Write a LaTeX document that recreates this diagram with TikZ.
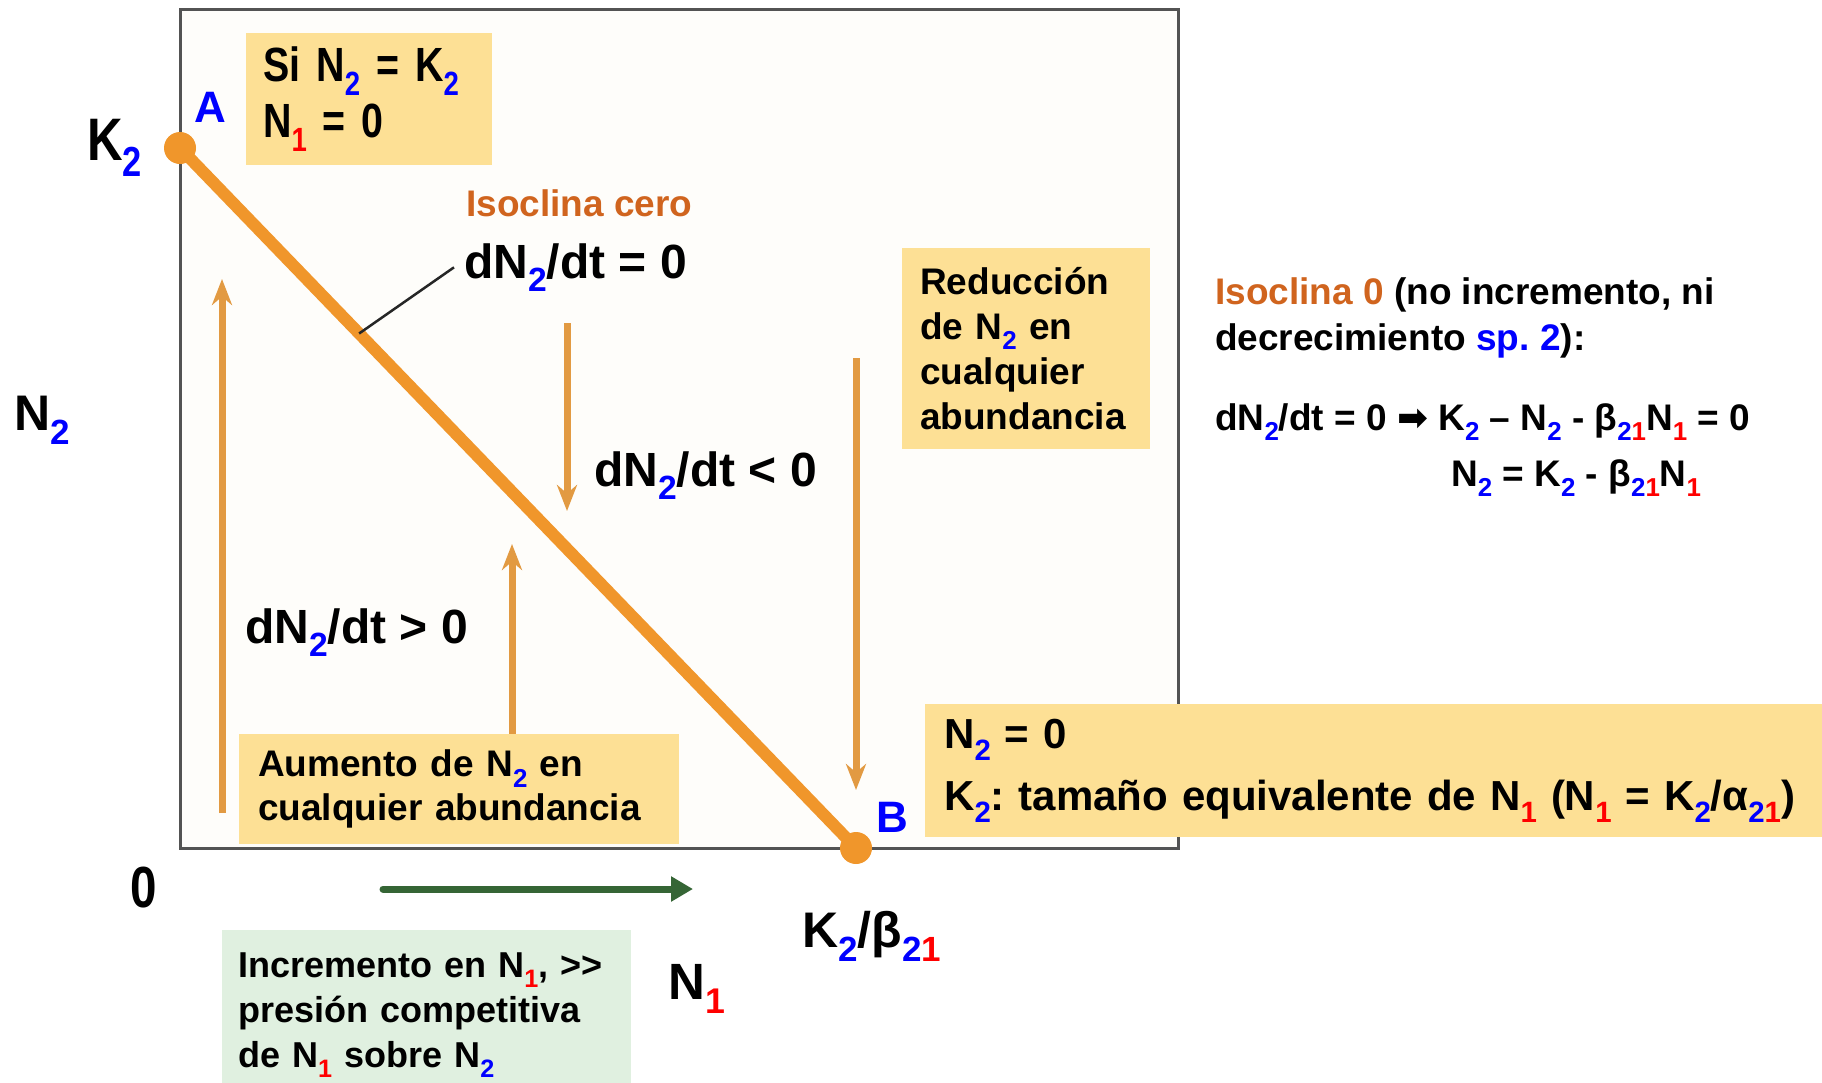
\documentclass[tikz,border=0pt]{standalone}
\usepackage{fontspec}
\setmainfont{Liberation Sans}
\newfontfamily\tallfont{Liberation Sans}[FakeStretch=0.82,BoldFeatures={FakeStretch=0.82}]
\newfontfamily\arrowfont{DejaVu Sans}
\usetikzlibrary{arrows.meta,calc}
\definecolor{boxyellow}{HTML}{FDE095}
\definecolor{boxgreen}{HTML}{E0F0E0}
\definecolor{isoline}{HTML}{F0962B}
\definecolor{flowarrow}{HTML}{E29A42}
\definecolor{isotext}{HTML}{D0641E}
\definecolor{spblue}{HTML}{0000FF}
\definecolor{spred}{HTML}{FF0000}
\definecolor{pushgreen}{HTML}{356535}
\definecolor{framefill}{HTML}{FEFDFA}
\newcommand{\fs}[2]{\fontsize{#1}{#2}\selectfont\bfseries}
\newcommand{\subb}[1]{\raisebox{-.28em}{\scalebox{.7}{\textcolor{spblue}{#1}}}}
\newcommand{\subr}[1]{\raisebox{-.28em}{\scalebox{.7}{\textcolor{spred}{#1}}}}
\newcommand{\subbr}{\raisebox{-.28em}{\scalebox{.7}{\textcolor{spblue}{2}\textcolor{spred}{1}}}}
\frenchspacing

\begin{document}
\begin{tikzpicture}[x=1pt,y=-1pt,>={Stealth[length=26pt,width=20pt]}]
  \tikzstyle{lbl}=[anchor=base west,inner sep=0pt]
  \tikzstyle{note}=[anchor=north west,fill=boxyellow,align=left,inner xsep=19pt,inner ysep=0pt]
  \tikzstyle{dot}=[circle,fill=isoline,minimum size=32pt,inner sep=0pt]
  \tikzstyle{flow}=[->,draw=flowarrow,line width=7pt]
  \useasboundingbox (0,0) rectangle (1822,1082);
  \draw[gray!65!black,line width=3pt,fill=framefill] (180,9) rectangle (1178,848);

  \node[note,font=\tallfont\fs{48}{56},text width=212pt,inner xsep=17pt,minimum height=132pt] (siBox) at (246,33)
    {Si N\subb{2} = K\subb{2}\\N\subr{1} = 0};
  \node[lbl,font=\fs{44}{44},text=spblue] (lblA) at (194,122) {A};
  \node[lbl,font=\fs{44}{44},text=spblue] (lblB) at (876,832) {B};
  \node[lbl,font=\tallfont\fs{60}{60}] (lblK) at (87,160) {K\subb{2}};
  \node[lbl,font=\fs{50}{50}] (axisN2) at (14,430) {N\subb{2}};
  \node[lbl,font=\tallfont\fs{58}{58}] (axisZero) at (130,907) {0};
  \node[lbl,font=\fs{50}{50}] (axisK) at (802,947) {K\subb{2}/β\subbr};
  \node[lbl,font=\fs{51}{51}] (axisN1) at (668,999) {N\subr{1}};

  \foreach \x/\ys/\ye in {222/813/279,512/734/544,567/323/511,856/358/790}
    \draw[flow] (\x,\ys) -- (\x,\ye);

  \node[dot] (ptA) at (180,148) {};
  \node[dot] (ptB) at (856,848) {};
  \draw[isoline,line width=12pt,line cap=round] (ptA.center) -- (ptB.center);
  \coordinate (isoPt) at ($(ptA)!0.265!(ptB)$);

  \node[lbl,font=\fs{37}{37},text=isotext] (isoName) at (466,216) {Isoclina cero};
  \node[lbl,font=\fs{48}{48}] (eqZero) at (464,278) {dN\subb{2}/dt = 0};
  \draw[gray!30!black,line width=2.5pt] ([xshift=-10pt]eqZero.west) -- (isoPt);
  \node[lbl,font=\fs{48}{48}] (eqNeg) at (594,486) {dN\subb{2}/dt < 0};
  \node[lbl,font=\fs{48}{48}] (eqPos) at (245,643) {dN\subb{2}/dt > 0};

  \node[note,font=\fs{37}{45},text width=212pt,inner xsep=18pt,minimum height=201pt] (redBox) at (902,248)
    {Reducción\\de N\subb{2} en\\cualquier\\abundancia};
  \node[note,font=\fs{37}{44},text width=402pt,minimum height=110pt] (incBox) at (239,734)
    {Aumento de N\subb{2} en\\cualquier abundancia};
  \node[note,font=\fs{42}{62},text width=859pt,minimum height=133pt] (zeroBox) at (925,704)
    {N\subb{2} = 0\\K\subb{2}: tamaño equivalente de N\subr{1} (N\subr{1} = K\subb{2}/α\subbr)};
  \node[note,fill=boxgreen,font=\fs{36}{45},text width=377pt,inner xsep=16pt,minimum height=170pt] (pressBox) at (222,930)
    {Incremento en N\subr{1}, >\kern0pt>\\presión competitiva\\de N\subr{1} sobre N\subb{2}};

  \coordinate (pushStart) at (383,889);
  \coordinate (pushEnd) at (693,889);
  \draw[-{Triangle[length=22pt,width=24pt]},pushgreen,line width=7pt,line cap=round] (pushStart) -- (pushEnd);

  \node[lbl,font=\fs{37}{37}] (isoTitle) at (1215,304)
    {\textcolor{isotext}{Isoclina 0} (no incremento, ni};
  \node[lbl,font=\fs{37}{37}] (isoTitleB) at (1215,350)
    {decrecimiento \textcolor{spblue}{sp. 2}):};
  \node[lbl,font=\fs{37}{37}] (isoEqA) at (1215,430)
    {dN\subb{2}/dt = 0 {\arrowfont\bfseries ➡} K\subb{2} – N\subb{2} - β\subbr N\subr{1} = 0};
  \node[lbl,font=\fs{37}{37}] (isoEqB) at (1451,486)
    {N\subb{2} = K\subb{2} - β\subbr N\subr{1}};
\end{tikzpicture}
\end{document}
